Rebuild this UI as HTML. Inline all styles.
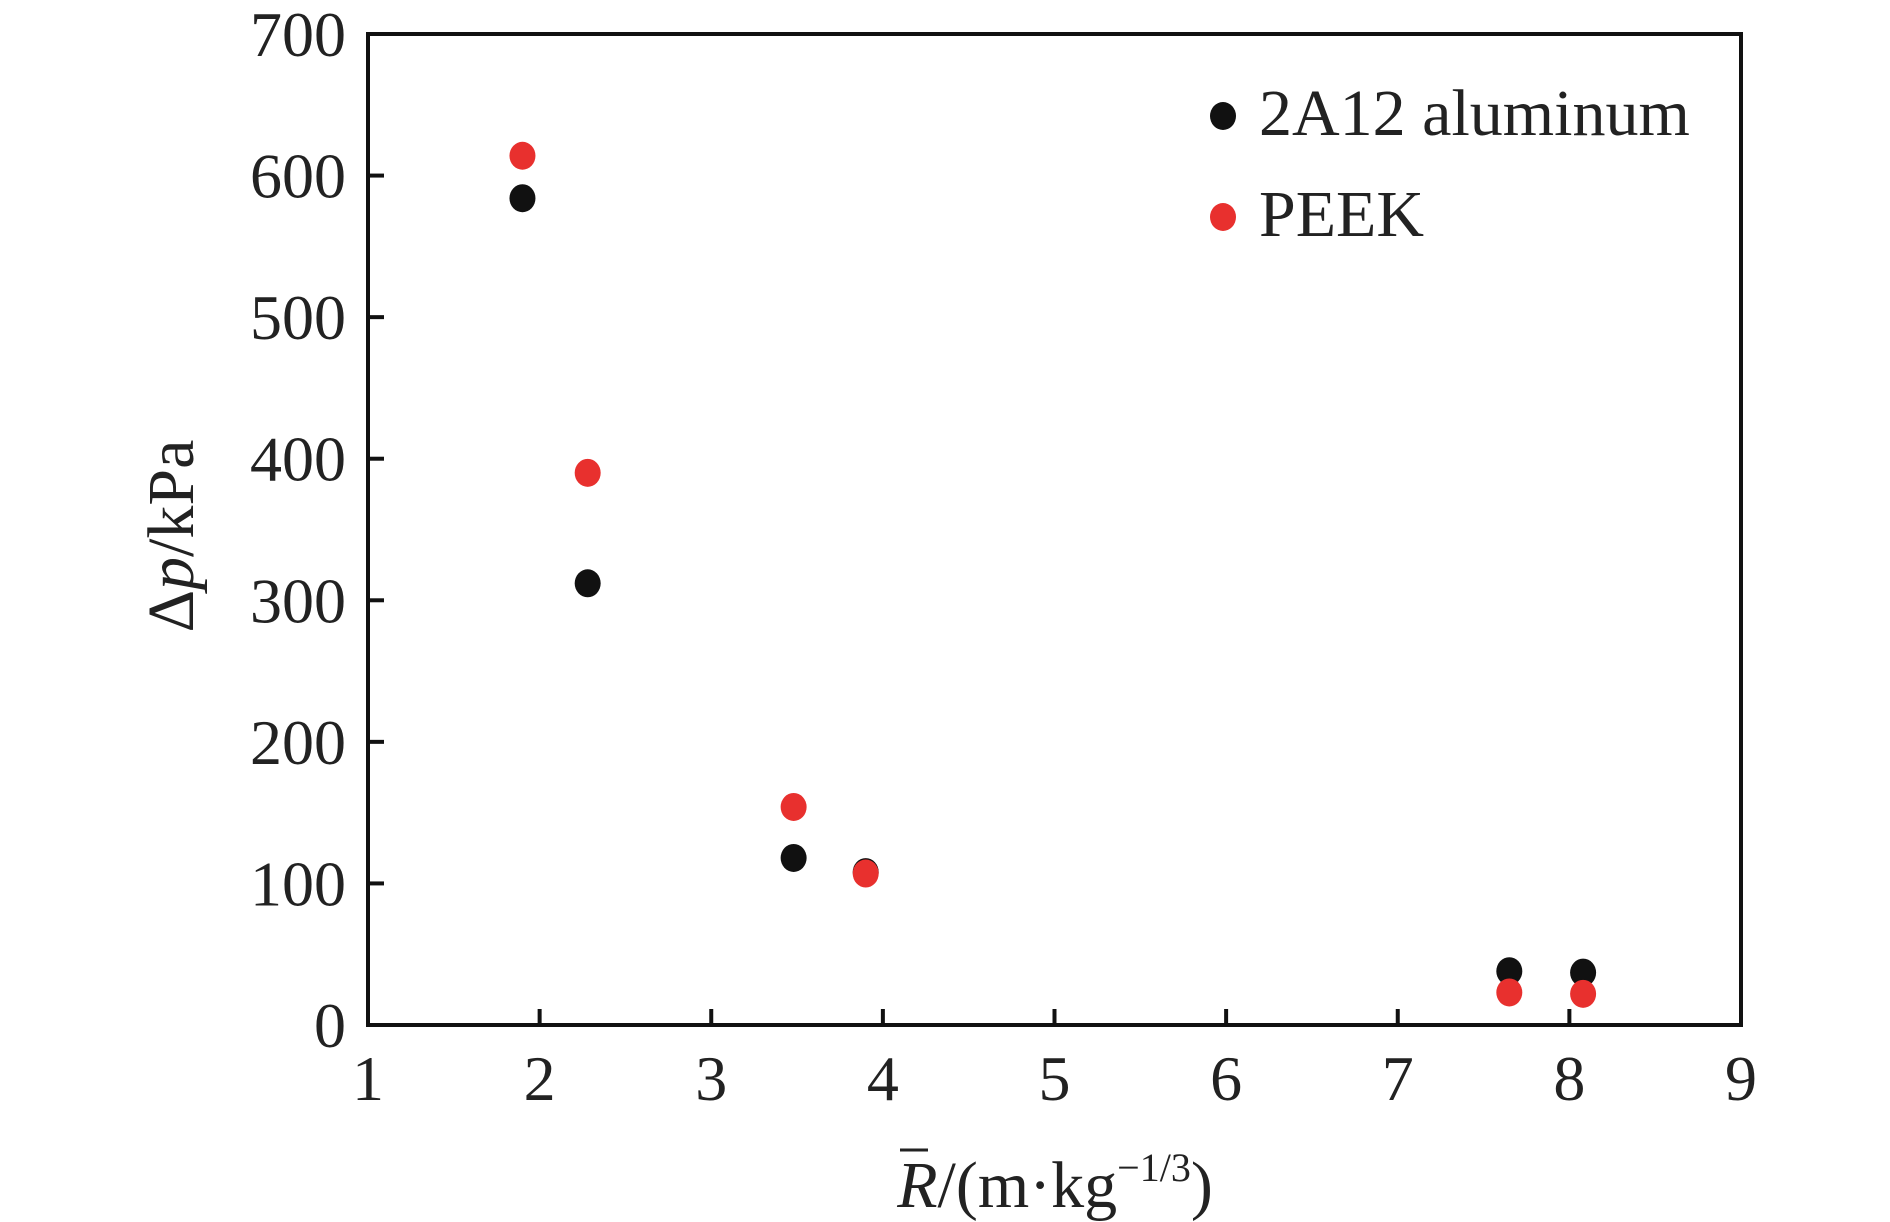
<!DOCTYPE html>
<html><head><meta charset="utf-8"><style>
html,body{margin:0;padding:0;background:#fff;}
svg{display:block;font-family:"Liberation Serif",serif;}
</style></head><body>
<svg id="chart" width="1890" height="1222" viewBox="0 0 1890 1222" xmlns="http://www.w3.org/2000/svg"></svg>
<script>
const xTicks=[1,2,3,4,5,6,7,8,9];
const yTicks=[0,100,200,300,400,500,600,700];
const xAl=[1.9,2.28,3.48,3.9,7.65,8.08];
const yAl=[584,312,118,108,38,37];
const xPk=[1.9,2.28,3.48,3.9,7.65,8.08];
const yPk=[614,390,154,107,23,22];
const L=368,R=1741,T=34,B=1025;
const sx=v=>L+(v-1)/8*(R-L);
const sy=v=>B-v/700*(B-T);
const svg=document.getElementById('chart');
const NS='http://www.w3.org/2000/svg';
function mk(tag,attrs,parent){const e=document.createElementNS(NS,tag);for(const k in attrs)e.setAttribute(k,attrs[k]);(parent||svg).appendChild(e);return e;}
const frame=mk('rect',{x:L,y:T,width:R-L,height:B-T,fill:'none',stroke:'#111',"stroke-width":4});


xTicks.forEach(v=>{
  const x=sx(v);
  if(v>1&&v<9){const t=mk('line',{x1:x,x2:x,y1:B,y2:B-16,stroke:'#111',"stroke-width":4});
  
  }
  const l=mk('text',{x:x,y:1100,"text-anchor":'middle',"font-size":64,fill:'#222'});l.textContent=v;
  
  
});
yTicks.forEach(v=>{
  const y=sy(v);
  if(v>0&&v<700){const t=mk('line',{x1:L,x2:L+16,y1:y,y2:y,stroke:'#111',"stroke-width":4});
  
  }
  const l=mk('text',{x:346,y:y+22,"text-anchor":'end',"font-size":64,fill:'#222'});l.textContent=v;
  
  
});
function series(xs,ys,color,name){
  xs.forEach((xv,i)=>{const c=mk('ellipse',{cx:sx(xv),cy:sy(ys[i]),rx:13,ry:14,fill:color});
  
  });
}
series(xAl,yAl,'#111','point-2a12-aluminum');
series(xPk,yPk,'#e8302e','point-peek');
</script>
<svg style="position:absolute;left:0;top:0" width="1890" height="1222">
<g font-family="Liberation Serif, serif" fill="#222">
<ellipse cx="1223" cy="116" rx="13" ry="14" fill="#111"/>
<text x="1259" y="135" font-size="66">2A12 aluminum</text>
<ellipse cx="1223" cy="217" rx="13" ry="14" fill="#e8302e"/>
<text x="1259" y="236" font-size="66">PEEK</text>
<text transform="translate(193,536) rotate(-90)" text-anchor="middle" font-size="66">Δ<tspan font-style="italic">p</tspan>/kPa</text>
<text x="1055" y="1207" text-anchor="middle" font-size="66"><tspan font-style="italic">R</tspan>/(m·kg<tspan font-size="40" dy="-26">−1/3</tspan><tspan dy="26">)</tspan></text>
<line x1="900" y1="1150" x2="928" y2="1150" stroke="#222" stroke-width="3"/>
</g></svg>
</body></html>
